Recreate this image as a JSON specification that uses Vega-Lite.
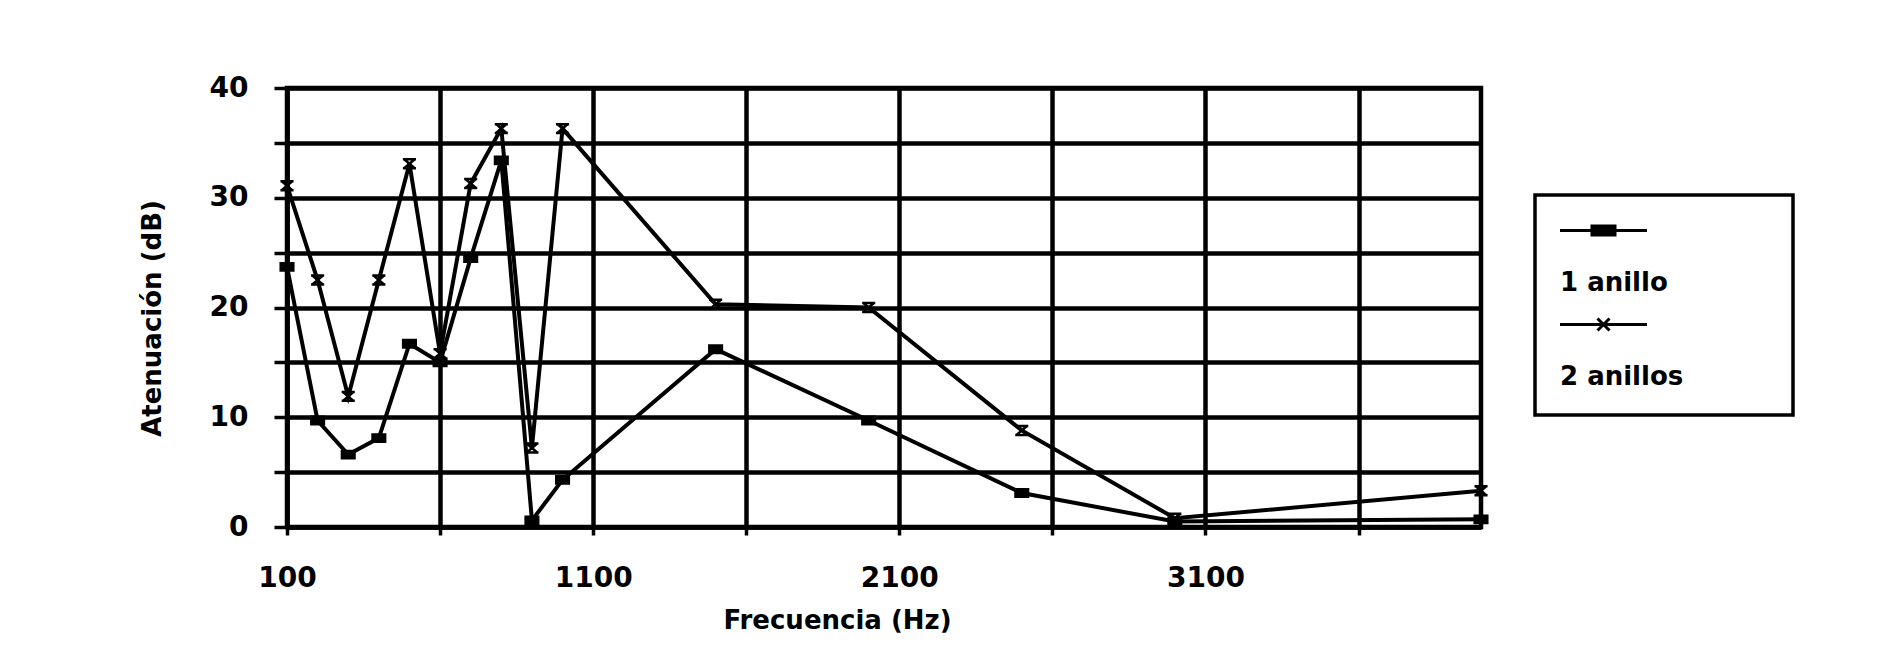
{
  "$schema": "https://vega.github.io/schema/vega-lite/v6.json",
  "width": 1194,
  "height": 439,
  "autosize": {"type": "none"},
  "padding": {"left": 287, "top": 88, "right": 415, "bottom": 125},
  "background": "white",
  "data": {
    "values": [
      {"serie": "1 anillo", "f": 100, "a": 23.7},
      {"serie": "1 anillo", "f": 200, "a": 9.7},
      {"serie": "1 anillo", "f": 300, "a": 6.6},
      {"serie": "1 anillo", "f": 400, "a": 8.1},
      {"serie": "1 anillo", "f": 500, "a": 16.7},
      {"serie": "1 anillo", "f": 600, "a": 15.0},
      {"serie": "1 anillo", "f": 700, "a": 24.5},
      {"serie": "1 anillo", "f": 800, "a": 33.4},
      {"serie": "1 anillo", "f": 900, "a": 0.6},
      {"serie": "1 anillo", "f": 1000, "a": 4.3},
      {"serie": "1 anillo", "f": 1500, "a": 16.2},
      {"serie": "1 anillo", "f": 2000, "a": 9.7},
      {"serie": "1 anillo", "f": 2500, "a": 3.1},
      {"serie": "1 anillo", "f": 3000, "a": 0.5},
      {"serie": "1 anillo", "f": 4000, "a": 0.7},
      {"serie": "2 anillos", "f": 100, "a": 31.1},
      {"serie": "2 anillos", "f": 200, "a": 22.5},
      {"serie": "2 anillos", "f": 300, "a": 11.9},
      {"serie": "2 anillos", "f": 400, "a": 22.5},
      {"serie": "2 anillos", "f": 500, "a": 33.1},
      {"serie": "2 anillos", "f": 600, "a": 15.8},
      {"serie": "2 anillos", "f": 700, "a": 31.3},
      {"serie": "2 anillos", "f": 800, "a": 36.3},
      {"serie": "2 anillos", "f": 900, "a": 7.2},
      {"serie": "2 anillos", "f": 1000, "a": 36.3},
      {"serie": "2 anillos", "f": 1500, "a": 20.3},
      {"serie": "2 anillos", "f": 2000, "a": 20.0},
      {"serie": "2 anillos", "f": 2500, "a": 8.8},
      {"serie": "2 anillos", "f": 3000, "a": 0.8},
      {"serie": "2 anillos", "f": 4000, "a": 3.3}
    ]
  },
  "encoding": {
    "x": {
      "field": "f",
      "type": "quantitative",
      "scale": {"domain": [100, 4000], "nice": false, "zero": false},
      "axis": {
        "values": [100, 600, 1100, 1600, 2100, 2600, 3100, 3600],
        "format": "d",
        "labelExpr": "(datum.value - 100) % 1000 == 0 ? datum.label : ''",
        "labelOverlap": false,
        "labelFlush": false,
        "title": "Frecuencia (Hz)",
        "titleX": 550,
        "titleY": 80,
        "titleBaseline": "top",
        "titleAlign": "center",
        "tickSize": 8,
        "labelPadding": 29
      }
    },
    "y": {
      "field": "a",
      "type": "quantitative",
      "scale": {"domain": [0, 40], "nice": false},
      "axis": {
        "values": [0, 5, 10, 15, 20, 25, 30, 35, 40],
        "labelExpr": "datum.value % 10 == 0 ? datum.label : ''",
        "labelOverlap": false,
        "title": "Atenuación (dB)",
        "titleX": -135,
        "titleY": 230,
        "titleBaseline": "middle",
        "titleAlign": "center",
        "tickSize": 13,
        "labelPadding": 26
      }
    }
  },
  "layer": [
    {
      "mark": {"type": "line", "color": "black", "strokeWidth": 4},
      "encoding": {"detail": {"field": "serie", "type": "nominal"}}
    },
    {
      "mark": {"type": "point", "filled": true, "color": "black", "stroke": "black", "strokeWidth": 2.5, "size": 110, "opacity": 1},
      "encoding": {
        "shape": {
          "field": "serie",
          "type": "nominal",
          "scale": {
            "domain": ["1 anillo", "2 anillos"],
            "range": ["M-1.2,-0.7H1.2V0.7H-1.2Z", "M-1.25,-0.85H1.25M-1.25,0.85H1.25M-1,-0.85L1,0.85M1,-0.85L-1,0.85"]
          },
          "legend": null
        }
      }
    },
    {
      "transform": [{"filter": "datum.f < 0"}],
      "mark": {"type": "point", "filled": false, "stroke": "black", "strokeWidth": 3, "opacity": 1},
      "encoding": {
        "shape": {
          "field": "serie",
          "type": "nominal",
          "scale": {
            "domain": ["1 anillo", "2 anillos"],
            "range": [
              "M-1.3,-5.25H7.4M1.75,-5.7H4.35M1.75,-5.4H4.35M1.75,-5.1H4.35M1.75,-4.8H4.35M18.9,-5.25",
              "M-1.3,-5.25H7.4M2.45,-5.85L3.65,-4.65M3.65,-5.85L2.45,-4.65M18.9,-5.25"
            ]
          },
          "legend": {
            "orient": "none",
            "legendX": 1248,
            "legendY": 107,
            "title": "\u00a0",
            "titleFontSize": 26,
            "titlePadding": 24,
            "symbolSize": 400,
            "symbolStrokeWidth": 3,
            "symbolFillColor": "transparent",
            "symbolStrokeColor": "black",
            "symbolOpacity": 1,
            "labelOffset": -26,
            "labelBaseline": "middle",
            "rowPadding": 16,
            "padding": 25,
            "strokeColor": "black"
          }
        }
      }
    }
  ],
  "resolve": {"scale": {"shape": "independent"}, "legend": {"shape": "independent"}},
  "config": {
    "view": {"stroke": "black", "strokeWidth": 4.5},
    "axis": {
      "domainColor": "black",
      "domainWidth": 4.5,
      "grid": true,
      "gridColor": "black",
      "gridWidth": 4.5,
      "gridOpacity": 1,
      "tickColor": "black",
      "tickWidth": 3.5,
      "labelFont": "DejaVu Sans",
      "labelFontWeight": "bold",
      "labelFontSize": 28,
      "labelColor": "black",
      "titleFont": "DejaVu Sans",
      "titleFontWeight": "bold",
      "titleFontSize": 26,
      "titleColor": "black"
    },
    "legend": {
      "labelFont": "DejaVu Sans",
      "labelFontWeight": "bold",
      "labelFontSize": 26,
      "labelColor": "black",
      "strokeWidth": 3.5
    }
  }
}
